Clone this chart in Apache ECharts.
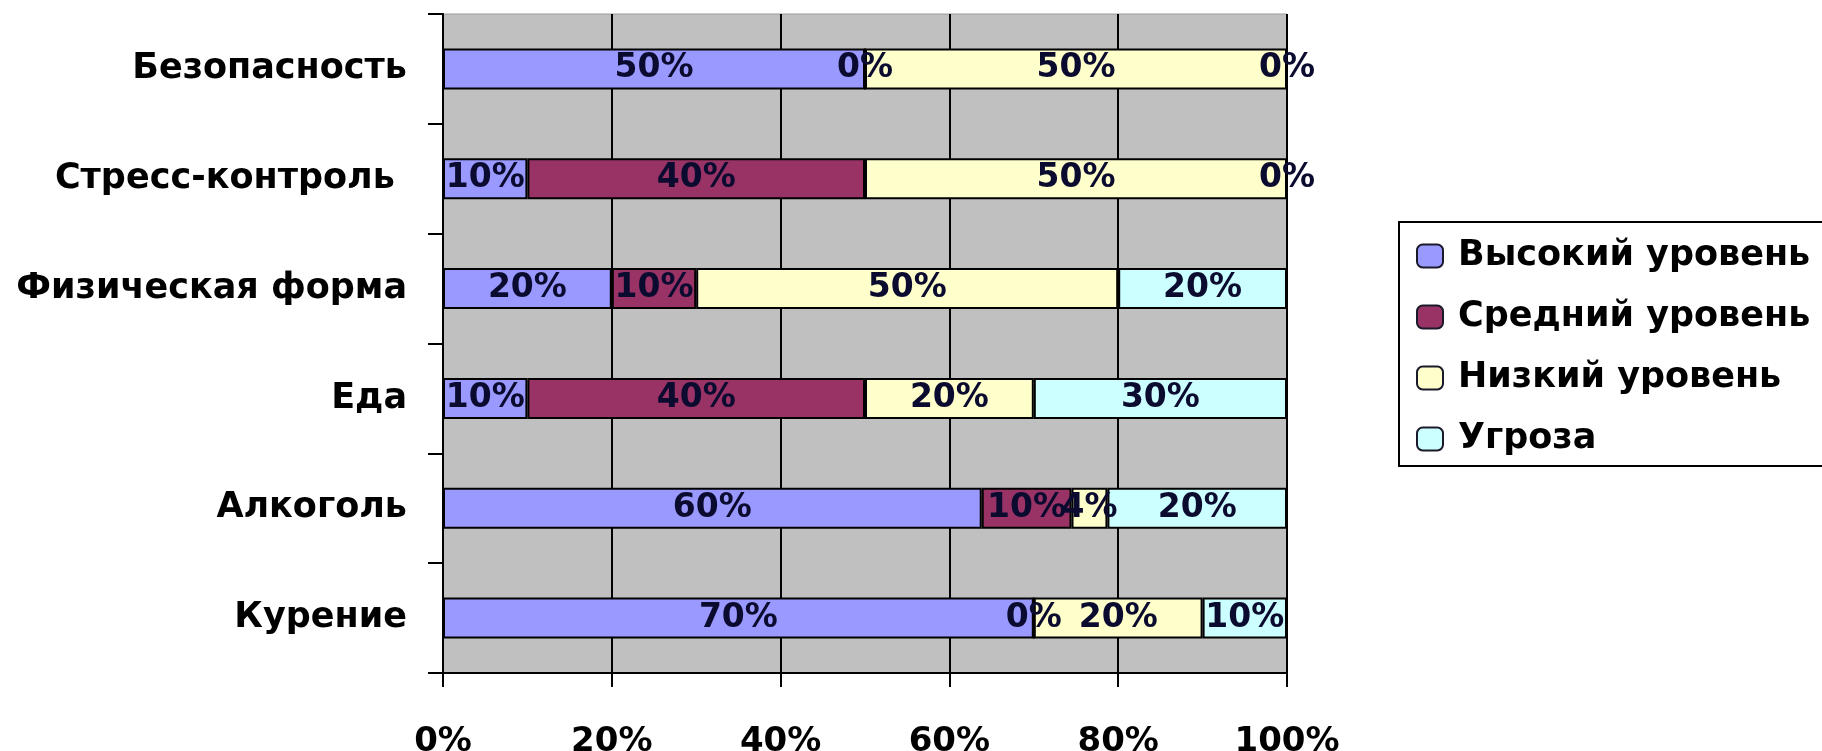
<!DOCTYPE html>
<html>
<head>
<meta charset="utf-8">
<script src="https://cdn.jsdelivr.net/npm/echarts@6/dist/echarts.min.js"></script>
<style>html,body{margin:0;padding:0;background:#fff}#c{width:1822px;height:751px}</style>
</head>
<body>
<div id="c"></div>
<script>
const categories = ['Безопасность', 'Стресс-контроль ', 'Физическая форма', 'Еда', 'Алкоголь', 'Курение'];
const seriesNames = ['Высокий уровень', 'Средний уровень', 'Низкий уровень', 'Угроза'];
const high = [50, 10, 20, 10, 60, 70];
const medium = [0, 40, 10, 40, 10, 0];
const low = [50, 50, 50, 20, 4, 20];
const threat = [0, 0, 20, 30, 20, 10];
const xTicks = [0, 20, 40, 60, 80, 100];

const raw = [high, medium, low, threat];
const colors = ['#9999FF', '#993366', '#FFFFCC', '#CCFFFF'];
const totals = categories.map((c, i) => raw.reduce((s, arr) => s + arr[i], 0));

const FONT = 'DejaVu Sans';
const chart = echarts.init(document.getElementById('c'));
const series = raw.map((arr, k) => ({
  name: seriesNames[k],
  type: 'bar',
  stack: 'total',
  barWidth: 41,
  data: arr.map((v, i) => ({ value: v / totals[i] * 100, raw: v })),
  itemStyle: { color: colors[k], borderColor: '#000', borderWidth: 2 },
  label: {
    show: true, position: 'inside',
    formatter: p => p.data.raw + '%',
    color: '#0b0b30', fontFamily: FONT, fontWeight: 'bold', fontSize: 33
  },
  emphasis: { disabled: true }
}));

chart.setOption({
  animation: false,
  backgroundColor: '#fff',
  grid: { left: 443, right: 535, top: 14, bottom: 78, outerBoundsMode: 'none', containLabel: false, show: true, backgroundColor: '#C0C0C0', borderColor: '#9a9a9a', borderWidth: 1 },
  xAxis: {
    type: 'value', min: 0, max: 100, interval: 20,
    axisLine: { show: true, lineStyle: { color: '#000', width: 2 } },
    axisTick: { show: true, length: 14, lineStyle: { color: '#000', width: 2 } },
    splitLine: { show: true, lineStyle: { color: '#000', width: 2 } },
    axisLabel: { formatter: v => (xTicks.includes(v) ? v + '%' : ''), margin: 52, color: '#000', fontFamily: FONT, fontWeight: 'bold', fontSize: 34 }
  },
  yAxis: {
    type: 'category', data: categories, inverse: true,
    axisLine: { show: true, lineStyle: { color: '#000', width: 2 } },
    axisTick: { show: true, length: 15, lineStyle: { color: '#000', width: 2 } },
    axisLabel: { margin: 36, color: '#000', fontFamily: FONT, fontWeight: 'bold', fontSize: 35 }
  },
  legend: {
    orient: 'vertical', left: 1399, top: 222,
    padding: [15, 40, 8, 17],
    borderColor: '#000', borderWidth: 2, backgroundColor: '#fff',
    itemWidth: 26, itemHeight: 23, itemGap: 23,
    itemStyle: { borderWidth: 2, borderColor: '#1a1a2a' },
    textStyle: { color: '#000', fontFamily: FONT, fontWeight: 'bold', fontSize: 35, lineHeight: 38, padding: [0, 0, 0, 10] },
    data: seriesNames
  },
  series
});
</script>
</body>
</html>
